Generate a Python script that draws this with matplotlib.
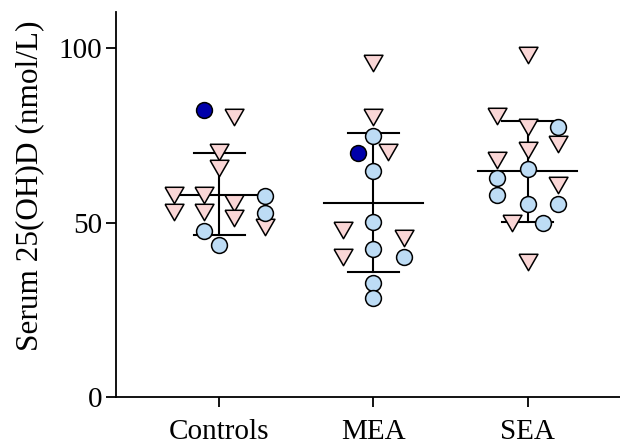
import numpy as np
import matplotlib.pyplot as plt

# Groups on the x axis
groups = ["Controls", "MEA", "SEA"]

# Mean and mean +/- SD lines (nmol/L)
means = [57.9, 55.7, 64.8]
sd_low = [46.4, 35.9, 50.2]
sd_high = [69.9, 75.7, 79.2]

# Individual values per group; *_col = column in the scatter (left/right of the centre)
ctrl_tri = [80.3, 70.3, 65.5, 57.9, 53.1, 57.9, 53.1, 55.5, 51.2, 48.8]
ctrl_tri_col = [1, 0, 0, -3, -3, -1, -1, 1, 1, 3]
ctrl_circ = [57.6, 52.8, 47.7, 43.5]
ctrl_circ_col = [3, 3, -1, 0]
ctrl_dark = [82.2]
ctrl_dark_col = [-1]

mea_tri = [95.6, 80.3, 70.3, 47.9, 40.2, 45.5]
mea_tri_col = [0, 0, 1, -2, -2, 2]
mea_circ = [74.8, 64.8, 50.2, 42.4, 40.0, 32.6, 28.3]
mea_circ_col = [0, 0, 0, 0, 2, 0, 0]
mea_dark = [69.8]
mea_dark_col = [-1]

sea_tri = [98.0, 80.5, 77.3, 72.5, 70.8, 67.9, 60.7, 49.9, 38.8]
sea_tri_col = [0, -2, 0, 2, 0, -2, 2, -1, 0]
sea_circ = [77.3, 65.2, 62.7, 57.9, 55.3, 55.3, 49.9]
sea_circ_col = [2, 0, -2, -2, 0, 2, 1]
sea_dark = []
sea_dark_col = []

tri_vals = [ctrl_tri, mea_tri, sea_tri]
tri_cols = [ctrl_tri_col, mea_tri_col, sea_tri_col]
circ_vals = [ctrl_circ, mea_circ, sea_circ]
circ_cols = [ctrl_circ_col, mea_circ_col, sea_circ_col]
dark_vals = [ctrl_dark, mea_dark, sea_dark]
dark_cols = [ctrl_dark_col, mea_dark_col, sea_dark_col]

# Style
pink = "#fad6d6"
light_blue = "#bddcf5"
dark_blue = "#0000aa"
col_step = 0.098
tri_marker = [(-1, 0.87), (1, 0.87), (0, -0.87), (-1, 0.87)]

plt.rcParams["font.family"] = ["Liberation Serif", "DejaVu Serif"]

fig = plt.figure(figsize=(6.2, 4.43), dpi=100)
ax = fig.add_axes([0.187, 0.1038, 0.813, 0.869])

for i in range(len(groups)):
    # mean and SD lines
    ax.plot([i - 0.32, i + 0.32], [means[i], means[i]], color="black", lw=1.5, zorder=1)
    ax.plot([i - 0.165, i + 0.165], [sd_low[i], sd_low[i]], color="black", lw=1.5, zorder=1)
    ax.plot([i - 0.165, i + 0.165], [sd_high[i], sd_high[i]], color="black", lw=1.5, zorder=1)
    ax.plot([i, i], [sd_low[i], sd_high[i]], color="black", lw=1.5, zorder=1)

    x_tri = i + np.array(tri_cols[i]) * col_step
    ax.scatter(x_tri, tri_vals[i], marker=tri_marker, s=185, facecolor=pink,
               edgecolor="black", linewidth=1.1, zorder=3)

    x_circ = i + np.array(circ_cols[i]) * col_step
    ax.scatter(x_circ, circ_vals[i], marker="o", s=130, facecolor=light_blue,
               edgecolor="black", linewidth=1.1, zorder=3)

    if len(dark_vals[i]) > 0:
        x_dark = i + np.array(dark_cols[i]) * col_step
        ax.scatter(x_dark, dark_vals[i], marker="o", s=130, facecolor=dark_blue,
                   edgecolor="black", linewidth=1.1, zorder=3)

ax.set_xlim(-0.67, 2.6)
ax.set_ylim(0, 110.3)
ax.set_xticks(range(len(groups)))
ax.set_xticklabels(groups)
ax.set_yticks([0, 50, 100])

fig.text(30 / 620, 1 - 186 / 443, "Serum 25(OH)D (nmol/L)", rotation=90,
         ha="center", va="center", fontsize=22.5)

ax.spines["top"].set_visible(False)
ax.spines["right"].set_visible(False)
ax.spines["left"].set_linewidth(1.3)
ax.spines["bottom"].set_linewidth(1.3)
ax.tick_params(axis="both", labelsize=21, length=7.5, width=1.3)
ax.tick_params(axis="x", pad=8)
ax.tick_params(axis="y", pad=2.5)

fig.savefig("out.png", dpi=100)
